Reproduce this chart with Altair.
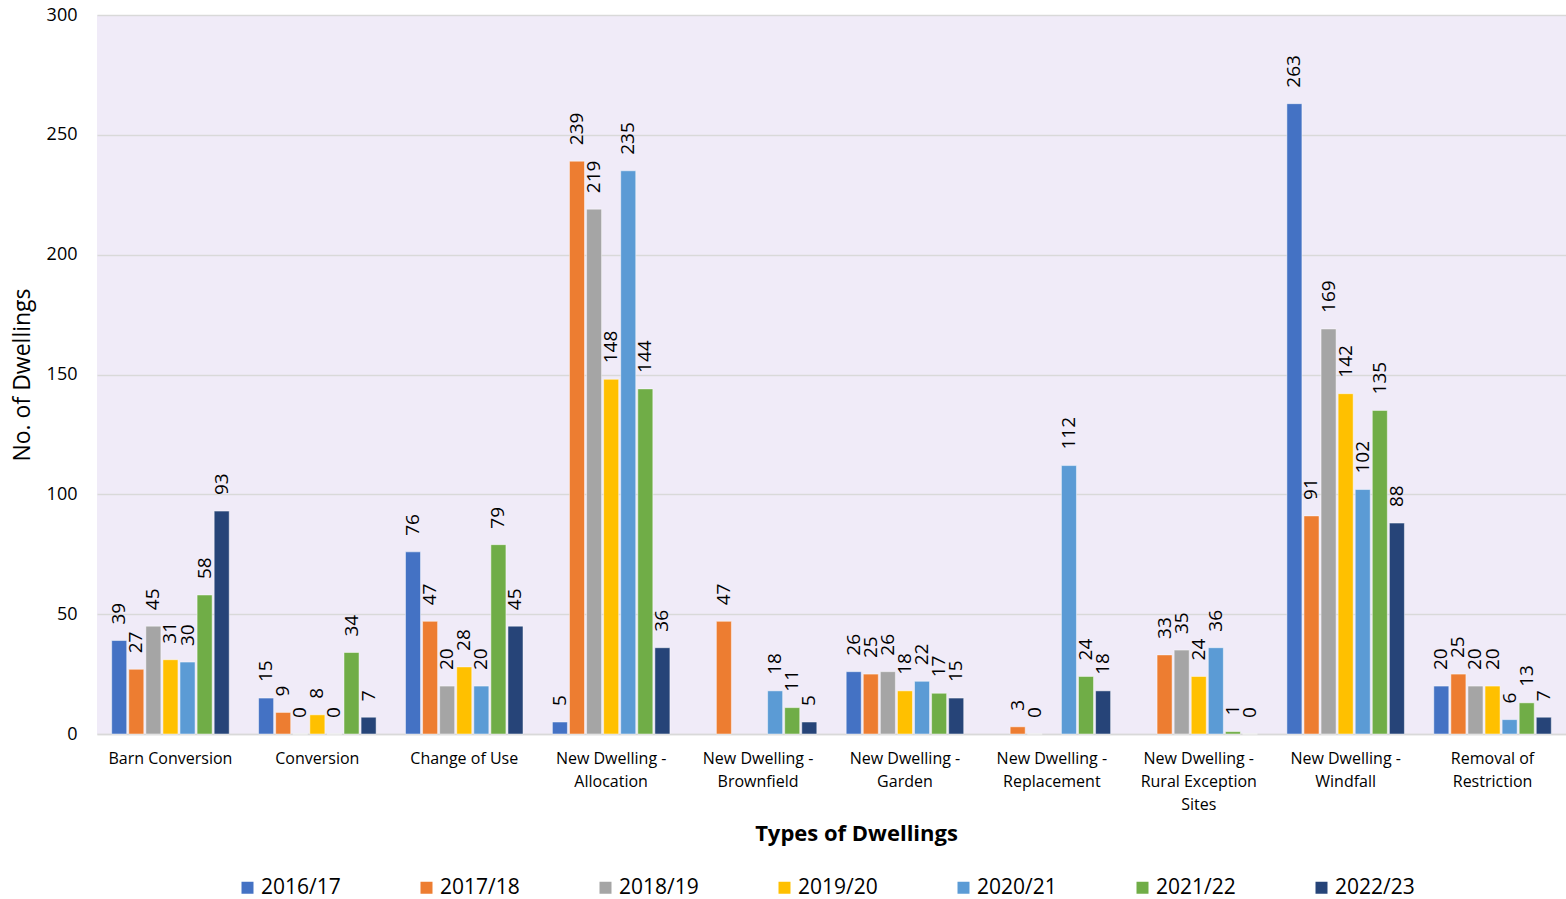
import json
import altair as alt
import pandas as pd

# Dwelling types, each split into the lines shown under the axis
CATEGORY_LINES = [
    ["Barn Conversion"],
    ["Conversion"],
    ["Change of Use"],
    ["New Dwelling -", "Allocation"],
    ["New Dwelling -", "Brownfield"],
    ["New Dwelling -", "Garden"],
    ["New Dwelling -", "Replacement"],
    ["New Dwelling -", "Rural Exception", "Sites"],
    ["New Dwelling -", "Windfall"],
    ["Removal of", "Restriction"],
]
categories = [" ".join(lines) for lines in CATEGORY_LINES]

years = ["2016/17", "2017/18", "2018/19", "2019/20", "2020/21", "2021/22", "2022/23"]
colors = ["#4472C4", "#ED7D31", "#A5A5A5", "#FFC000", "#5B9BD5", "#70AD47", "#264478"]

# Number of dwellings per type, one list per monitoring year (None = no record)
v2016_17 = [39, 15, 76, 5, None, 26, None, None, 263, 20]
v2017_18 = [27, 9, 47, 239, 47, 25, 3, 33, 91, 25]
v2018_19 = [45, 0, 20, 219, None, 26, 0, 35, 169, 20]
v2019_20 = [31, 8, 28, 148, None, 18, None, 24, 142, 20]
v2020_21 = [30, 0, 20, 235, 18, 22, 112, 36, 102, 6]
v2021_22 = [58, 34, 79, 144, 11, 17, 24, 1, 135, 13]
v2022_23 = [93, 7, 45, 36, 5, 15, 18, 0, 88, 7]

series = [v2016_17, v2017_18, v2018_19, v2019_20, v2020_21, v2021_22, v2022_23]

rows = []
for year, values in zip(years, series):
    for cat, val in zip(categories, values):
        if val is not None:
            rows.append({"Type": cat, "Year": year, "Dwellings": val})
df = pd.DataFrame(rows)

label_expr = "".join(
    f"datum.value === {json.dumps(c)} ? {json.dumps(l)} : "
    for c, l in zip(categories, CATEGORY_LINES)
) + "datum.label"

FONT = "Open Sans"

x_enc = alt.X(
    "Type:N",
    sort=categories,
    scale=alt.Scale(paddingInner=0.2, paddingOuter=0.1),
    axis=alt.Axis(
        title="Types of Dwellings",
        titleFontSize=22,
        titleFontWeight="bold",
        titleX=759,
        titleY=99,
        titleBaseline="middle",
        titleAlign="center",
        labelExpr=label_expr,
        labelFontSize=16,
        labelLineHeight=23,
        labelPadding=16,
        labelAngle=0,
        ticks=False,
        domainColor="#D9D9D9",
        domainWidth=1.5,
        grid=False,
    ),
)
xoff_enc = alt.XOffset(
    "Year:N", sort=years, scale=alt.Scale(paddingInner=0.12, paddingOuter=0)
)
y_enc = alt.Y(
    "Dwellings:Q",
    scale=alt.Scale(domain=[0, 300], nice=False),
    axis=alt.Axis(
        title="No. of Dwellings",
        titleFontSize=23,
        titleFontWeight="normal",
        titleAngle=270,
        titleX=-75,
        titleY=359.5,
        titleBaseline="middle",
        titleAlign="center",
        values=[0, 50, 100, 150, 200, 250, 300],
        labelFontSize=18,
        labelPadding=20,
        ticks=False,
        domain=False,
        gridColor="#D9D9D9",
        gridWidth=1.5,
    ),
)
color_enc = alt.Color(
    "Year:N",
    sort=years,
    scale=alt.Scale(domain=years, range=colors),
    legend=alt.Legend(
        title=None,
        orient="none",
        legendX=140,
        legendY=862,
        direction="horizontal",
        columns=7,
        gridAlign="all",
        columnPadding=75,
        symbolType="square",
        symbolSize=144,
        symbolStrokeWidth=0,
        labelFontSize=21,
        labelOffset=3,
        padding=0,
    ),
)

bars = alt.Chart(df).mark_bar(
    stroke="white", strokeWidth=0.8, strokeOpacity=0.6
).encode(x=x_enc, xOffset=xoff_enc, y=y_enc, color=color_enc)

labels = alt.Chart(df).mark_text(
    angle=270, align="left", baseline="middle", dx=16, fontSize=19, color="#000000"
).encode(
    x=alt.X("Type:N", sort=categories),
    xOffset=alt.XOffset("Year:N", sort=years),
    y="Dwellings:Q",
    text="Dwellings:Q",
)

chart = (
    alt.layer(bars, labels)
    .properties(
        width=1469,
        height=719,
        padding={"left": 97, "top": 15, "right": 0, "bottom": 165},
        autosize=alt.AutoSizeParams(type="none"),
    )
    .configure(font=FONT)
    .configure_axis(labelColor="#000000", titleColor="#000000")
    .configure_legend(labelColor="#000000")
    .configure_view(fill="#F0EBF8", strokeWidth=0)
)

chart.save("out.html", embed_options={"renderer": "svg", "actions": False})
